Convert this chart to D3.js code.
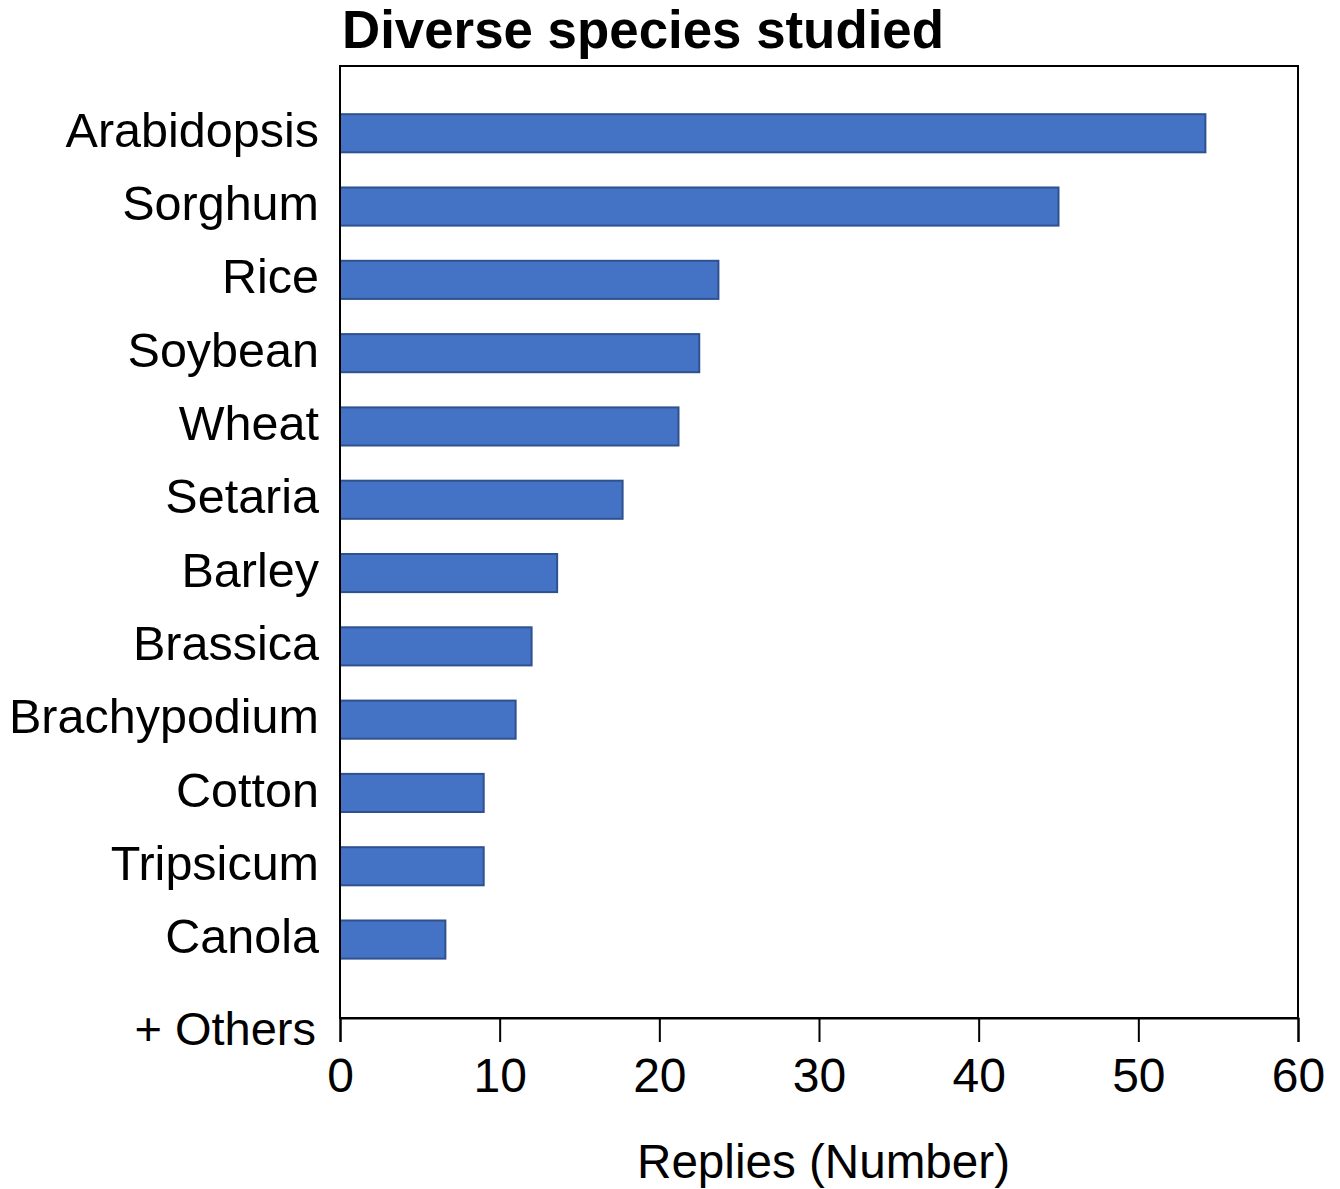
<!DOCTYPE html>
<html>
<head>
<meta charset="utf-8">
<script src="https://cdn.jsdelivr.net/npm/d3@7"></script>
<style>
	body { margin: 0; background: white; }
	text { font-family: "Liberation Sans", Arial, sans-serif; fill: #000; }
</style>
</head>
<body>
<div id="chart"></div>
<script>
// Data
const species = [
	"Arabidopsis", "Sorghum", "Rice", "Soybean", "Wheat", "Setaria",
	"Barley", "Brassica", "Brachypodium", "Cotton", "Tripsicum", "Canola",
]
const replies = [54.2, 45, 23.7, 22.5, 21.2, 17.7, 13.6, 12.0, 11.0, 9.0, 9.0, 6.6]
const xTicks = [0, 10, 20, 30, 40, 50, 60]
const othersLabel = "+ Others"
const titleText = "Diverse species studied"
const xLabel = "Replies (Number)"

const W = 1340
const H = 1189
const plot = { left: 340, right: 1298, top: 66, bottom: 1018 }

const svg = d3.select("#chart")
	.append("svg")
	.attr("width", W)
	.attr("height", H)

// Scales
const x = d3.scaleLinear().domain([0, 60]).range([plot.left, plot.right])
const y = d3.scaleBand()
	.domain(species)
	.range([96.6, 976.2])
	.paddingInner(0.48)
	.paddingOuter(0.24)

// Bars
svg.append("g")
	.selectAll("rect")
	.data(species)
	.join("rect")
	.attr("x", x(0))
	.attr("y", (d) => y(d))
	.attr("width", (d, i) => x(replies[i]) - x(0))
	.attr("height", y.bandwidth())
	.attr("fill", "#4472C4")
	.attr("stroke", "#2F528F")
	.attr("stroke-width", 2)

// Frame around the plot
svg.append("rect")
	.attr("x", plot.left)
	.attr("y", plot.top)
	.attr("width", plot.right - plot.left)
	.attr("height", plot.bottom - plot.top)
	.attr("fill", "none")
	.attr("stroke", "#000")
	.attr("stroke-width", 2)

// X axis
const xAxis = svg.append("g")
	.attr("transform", `translate(0,${plot.bottom})`)
	.call(d3.axisBottom(x).tickValues(xTicks).tickSize(24).tickPadding(16).tickFormat(d3.format("d")))

xAxis.select(".domain").attr("stroke", "#000").attr("stroke-width", 2)
xAxis.selectAll(".tick line").attr("stroke", "#000").attr("stroke-width", 2)
xAxis.selectAll(".tick text")
	.style("font-size", "48px")
	.attr("fill", "#000")

// Category labels
svg.append("g")
	.selectAll("text")
	.data(species)
	.join("text")
	.attr("x", 319)
	.attr("y", (d) => y(d) + y.bandwidth() / 2)
	.attr("dy", "0.28em")
	.attr("text-anchor", "end")
	.style("font-size", "48.5px")
	.text((d) => d)

svg.append("text")
	.attr("x", 316)
	.attr("y", 1045)
	.attr("text-anchor", "end")
	.style("font-size", "47px")
	.text(othersLabel)

// Title
svg.append("text")
	.attr("x", 342)
	.attr("y", 48)
	.attr("textLength", 602)
	.attr("lengthAdjust", "spacingAndGlyphs")
	.style("font-size", "54px")
	.style("font-weight", "bold")
	.text(titleText)

// X axis label
svg.append("text")
	.attr("x", 637)
	.attr("y", 1178)
	.attr("textLength", 373)
	.attr("lengthAdjust", "spacingAndGlyphs")
	.style("font-size", "48px")
	.text(xLabel)
</script>
</body>
</html>
